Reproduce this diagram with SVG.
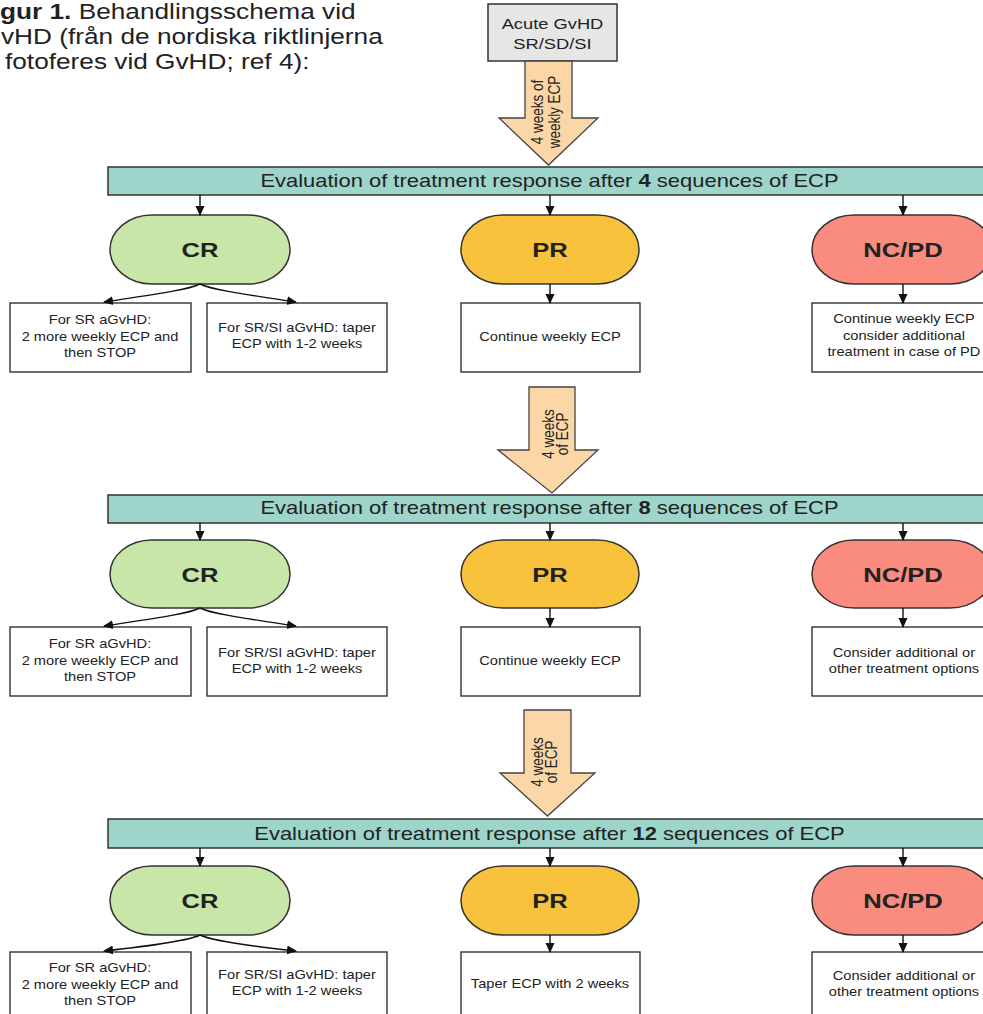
<svg xmlns="http://www.w3.org/2000/svg" width="983" height="1014" viewBox="0 0 983 1014">
<defs>
<style>
text{font-family:"Liberation Sans",Arial,sans-serif;fill:#222}
.s{transform-box:fill-box;transform-origin:50% 50%;transform:scaleX(1.22)}
.sl{transform-box:fill-box;transform-origin:0% 50%;transform:scaleX(1.22)}
.cap{font-size:21.5px}
.bar{fill:#9ed5ca;stroke:#333;stroke-width:1.5}
.bt{font-size:18px;text-anchor:middle}
.cr{fill:#c8e6a7;stroke:#333;stroke-width:1.5}
.pr{fill:#f9c23c;stroke:#333;stroke-width:1.5}
.nc{fill:#f98c7e;stroke:#333;stroke-width:1.5}
.pl{font-size:21px;font-weight:bold;text-anchor:middle}
.box{fill:#fff;stroke:#333;stroke-width:1.4}
.bx{font-size:12px;text-anchor:middle}
.big{fill:#fbd6a7;stroke:#444;stroke-width:1.3}
.at{font-size:13.5px;text-anchor:middle}
.con path{fill:none;stroke:#111;stroke-width:1.4;marker-end:url(#ah)}
</style>
<marker id="ah" markerWidth="10" markerHeight="10" refX="9" refY="5" orient="auto" markerUnits="userSpaceOnUse"><path d="M0,0.5 L10,5 L0,9.5 z" fill="#111"/></marker>
</defs>
<rect width="983" height="1014" fill="#fff"/>

<g id="caption">
<text class="cap sl" x="0" y="18.5"><tspan font-weight="bold">gur 1.</tspan> Behandlingsschema vid</text>
<text class="cap sl" x="1" y="44">vHD (från de nordiska riktlinjerna</text>
<text class="cap sl" x="5" y="69.5">fotoferes vid GvHD; ref 4):</text>
</g>

<g id="start">
<rect x="488" y="4" width="129" height="57" fill="#e6e6e6" stroke="#333" stroke-width="1.5"/>
<text class="s" x="552.5" y="29" font-size="15" text-anchor="middle">Acute GvHD</text>
<text class="s" x="552.5" y="49" font-size="15" text-anchor="middle">SR/SD/SI</text>
</g>

<g id="arrow1">
<path class="big" d="M525,61 L572,61 L572,118 L598,118 L548.5,165 L499,118 L525,118 Z"/>
<text class="at" transform="translate(543,112) scale(1.22,1) rotate(-90)">4 weeks of</text>
<text class="at" transform="translate(560,112) scale(1.22,1) rotate(-90)">weekly ECP</text>
</g>

<g id="eval4">
<rect class="bar" x="108" y="167" width="885" height="28"/>
<text class="bt s" x="549.5" y="187">Evaluation of treatment response after <tspan font-weight="bold">4</tspan> sequences of ECP</text>
</g>

<g id="cr1"><rect class="cr" x="110" y="215" width="180" height="69" rx="42" ry="34.5"/><text class="pl s" x="200" y="257">CR</text></g>
<g id="pr1"><rect class="pr" x="461" y="215" width="178" height="69" rx="42" ry="34.5"/><text class="pl s" x="550" y="257">PR</text></g>
<g id="nc1"><rect class="nc" x="812" y="215" width="180" height="69" rx="42" ry="34.5"/><text class="pl s" x="903" y="257">NC/PD</text></g>

<g id="cr1a"><rect class="box" x="10" y="303" width="181" height="69"/>
<text class="bx s" x="100" y="324">For SR aGvHD:</text><text class="bx s" x="100" y="341">2 more weekly ECP and</text><text class="bx s" x="100" y="357">then STOP</text></g>
<g id="cr1b"><rect class="box" x="207" y="303" width="180" height="69"/>
<text class="bx s" x="297" y="332">For SR/SI aGvHD: taper</text><text class="bx s" x="297" y="348">ECP with 1-2 weeks</text></g>
<g id="pr1a"><rect class="box" x="461" y="303" width="179" height="69"/>
<text class="bx s" x="550" y="341">Continue weekly ECP</text></g>
<g id="nc1a"><rect class="box" x="812" y="303" width="182" height="69"/>
<text class="bx s" x="904" y="323">Continue weekly ECP</text><text class="bx s" x="904" y="340">consider additional</text><text class="bx s" x="904" y="356">treatment in case of PD</text></g>

<g id="arrow2">
<path class="big" d="M529,387 L575,387 L575,450 L598,450 L552,493 L498,450 L529,450 Z"/>
<text class="at" transform="translate(554,434) scale(1.22,1) rotate(-90)">4 weeks</text>
<text class="at" transform="translate(568,434) scale(1.22,1) rotate(-90)">of ECP</text>
</g>

<g id="eval8">
<rect class="bar" x="108" y="495" width="885" height="28"/>
<text class="bt s" x="549.5" y="514">Evaluation of treatment response after <tspan font-weight="bold">8</tspan> sequences of ECP</text>
</g>

<g id="cr2"><rect class="cr" x="110" y="540" width="180" height="68" rx="42" ry="34"/><text class="pl s" x="200" y="582">CR</text></g>
<g id="pr2"><rect class="pr" x="461" y="540" width="178" height="68" rx="42" ry="34"/><text class="pl s" x="550" y="582">PR</text></g>
<g id="nc2"><rect class="nc" x="812" y="540" width="180" height="68" rx="42" ry="34"/><text class="pl s" x="903" y="582">NC/PD</text></g>

<g id="cr2a"><rect class="box" x="10" y="627" width="181" height="69"/>
<text class="bx s" x="100" y="648">For SR aGvHD:</text><text class="bx s" x="100" y="665">2 more weekly ECP and</text><text class="bx s" x="100" y="681">then STOP</text></g>
<g id="cr2b"><rect class="box" x="207" y="627" width="180" height="69"/>
<text class="bx s" x="297" y="657">For SR/SI aGvHD: taper</text><text class="bx s" x="297" y="673">ECP with 1-2 weeks</text></g>
<g id="pr2a"><rect class="box" x="461" y="627" width="179" height="69"/>
<text class="bx s" x="550" y="665">Continue weekly ECP</text></g>
<g id="nc2a"><rect class="box" x="812" y="627" width="182" height="69"/>
<text class="bx s" x="904" y="657">Consider additional or</text><text class="bx s" x="904" y="673">other treatment options</text></g>

<g id="arrow3">
<path class="big" d="M524,710 L571,710 L571,773 L595,773 L547.5,816 L500,773 L524,773 Z"/>
<text class="at" transform="translate(543,762) scale(1.22,1) rotate(-90)">4 weeks</text>
<text class="at" transform="translate(557,762) scale(1.22,1) rotate(-90)">of ECP</text>
</g>

<g id="eval12">
<rect class="bar" x="108" y="819" width="885" height="29"/>
<text class="bt s" x="549.5" y="840">Evaluation of treatment response after <tspan font-weight="bold">12</tspan> sequences of ECP</text>
</g>

<g id="cr3"><rect class="cr" x="110" y="866" width="180" height="69" rx="42" ry="34.5"/><text class="pl s" x="200" y="908">CR</text></g>
<g id="pr3"><rect class="pr" x="461" y="866" width="178" height="69" rx="42" ry="34.5"/><text class="pl s" x="550" y="908">PR</text></g>
<g id="nc3"><rect class="nc" x="812" y="866" width="180" height="69" rx="42" ry="34.5"/><text class="pl s" x="903" y="908">NC/PD</text></g>

<g id="cr3a"><rect class="box" x="10" y="952" width="181" height="75"/>
<text class="bx s" x="100" y="972">For SR aGvHD:</text><text class="bx s" x="100" y="989">2 more weekly ECP and</text><text class="bx s" x="100" y="1005">then STOP</text></g>
<g id="cr3b"><rect class="box" x="207" y="952" width="180" height="75"/>
<text class="bx s" x="297" y="979">For SR/SI aGvHD: taper</text><text class="bx s" x="297" y="995">ECP with 1-2 weeks</text></g>
<g id="pr3a"><rect class="box" x="461" y="952" width="179" height="75"/>
<text class="bx s" x="550" y="988">Taper ECP with 2 weeks</text></g>
<g id="nc3a"><rect class="box" x="812" y="952" width="182" height="75"/>
<text class="bx s" x="904" y="980">Consider additional or</text><text class="bx s" x="904" y="996">other treatment options</text></g>

<g id="connectors" class="con">
<path d="M200,195 L200,215"/>
<path d="M550,195 L550,215"/>
<path d="M903,195 L903,215"/>
<path d="M200,284 C188,290 150,295 104,302"/>
<path d="M200,284 C212,290 250,295 296,302"/>
<path d="M550,284 L550,303"/>
<path d="M903,284 L903,303"/>
<path d="M200,523 L200,540"/>
<path d="M550,523 L550,540"/>
<path d="M903,523 L903,540"/>
<path d="M200,608 C188,614 150,619 104,626"/>
<path d="M200,608 C212,614 250,619 296,626"/>
<path d="M550,608 L550,627"/>
<path d="M903,608 L903,627"/>
<path d="M200,848 L200,866"/>
<path d="M550,848 L550,866"/>
<path d="M903,848 L903,866"/>
<path d="M200,935 C188,941 150,946 104,951"/>
<path d="M200,935 C212,941 250,946 296,951"/>
<path d="M550,935 L550,952"/>
<path d="M903,935 L903,952"/>
</g>
</svg>
